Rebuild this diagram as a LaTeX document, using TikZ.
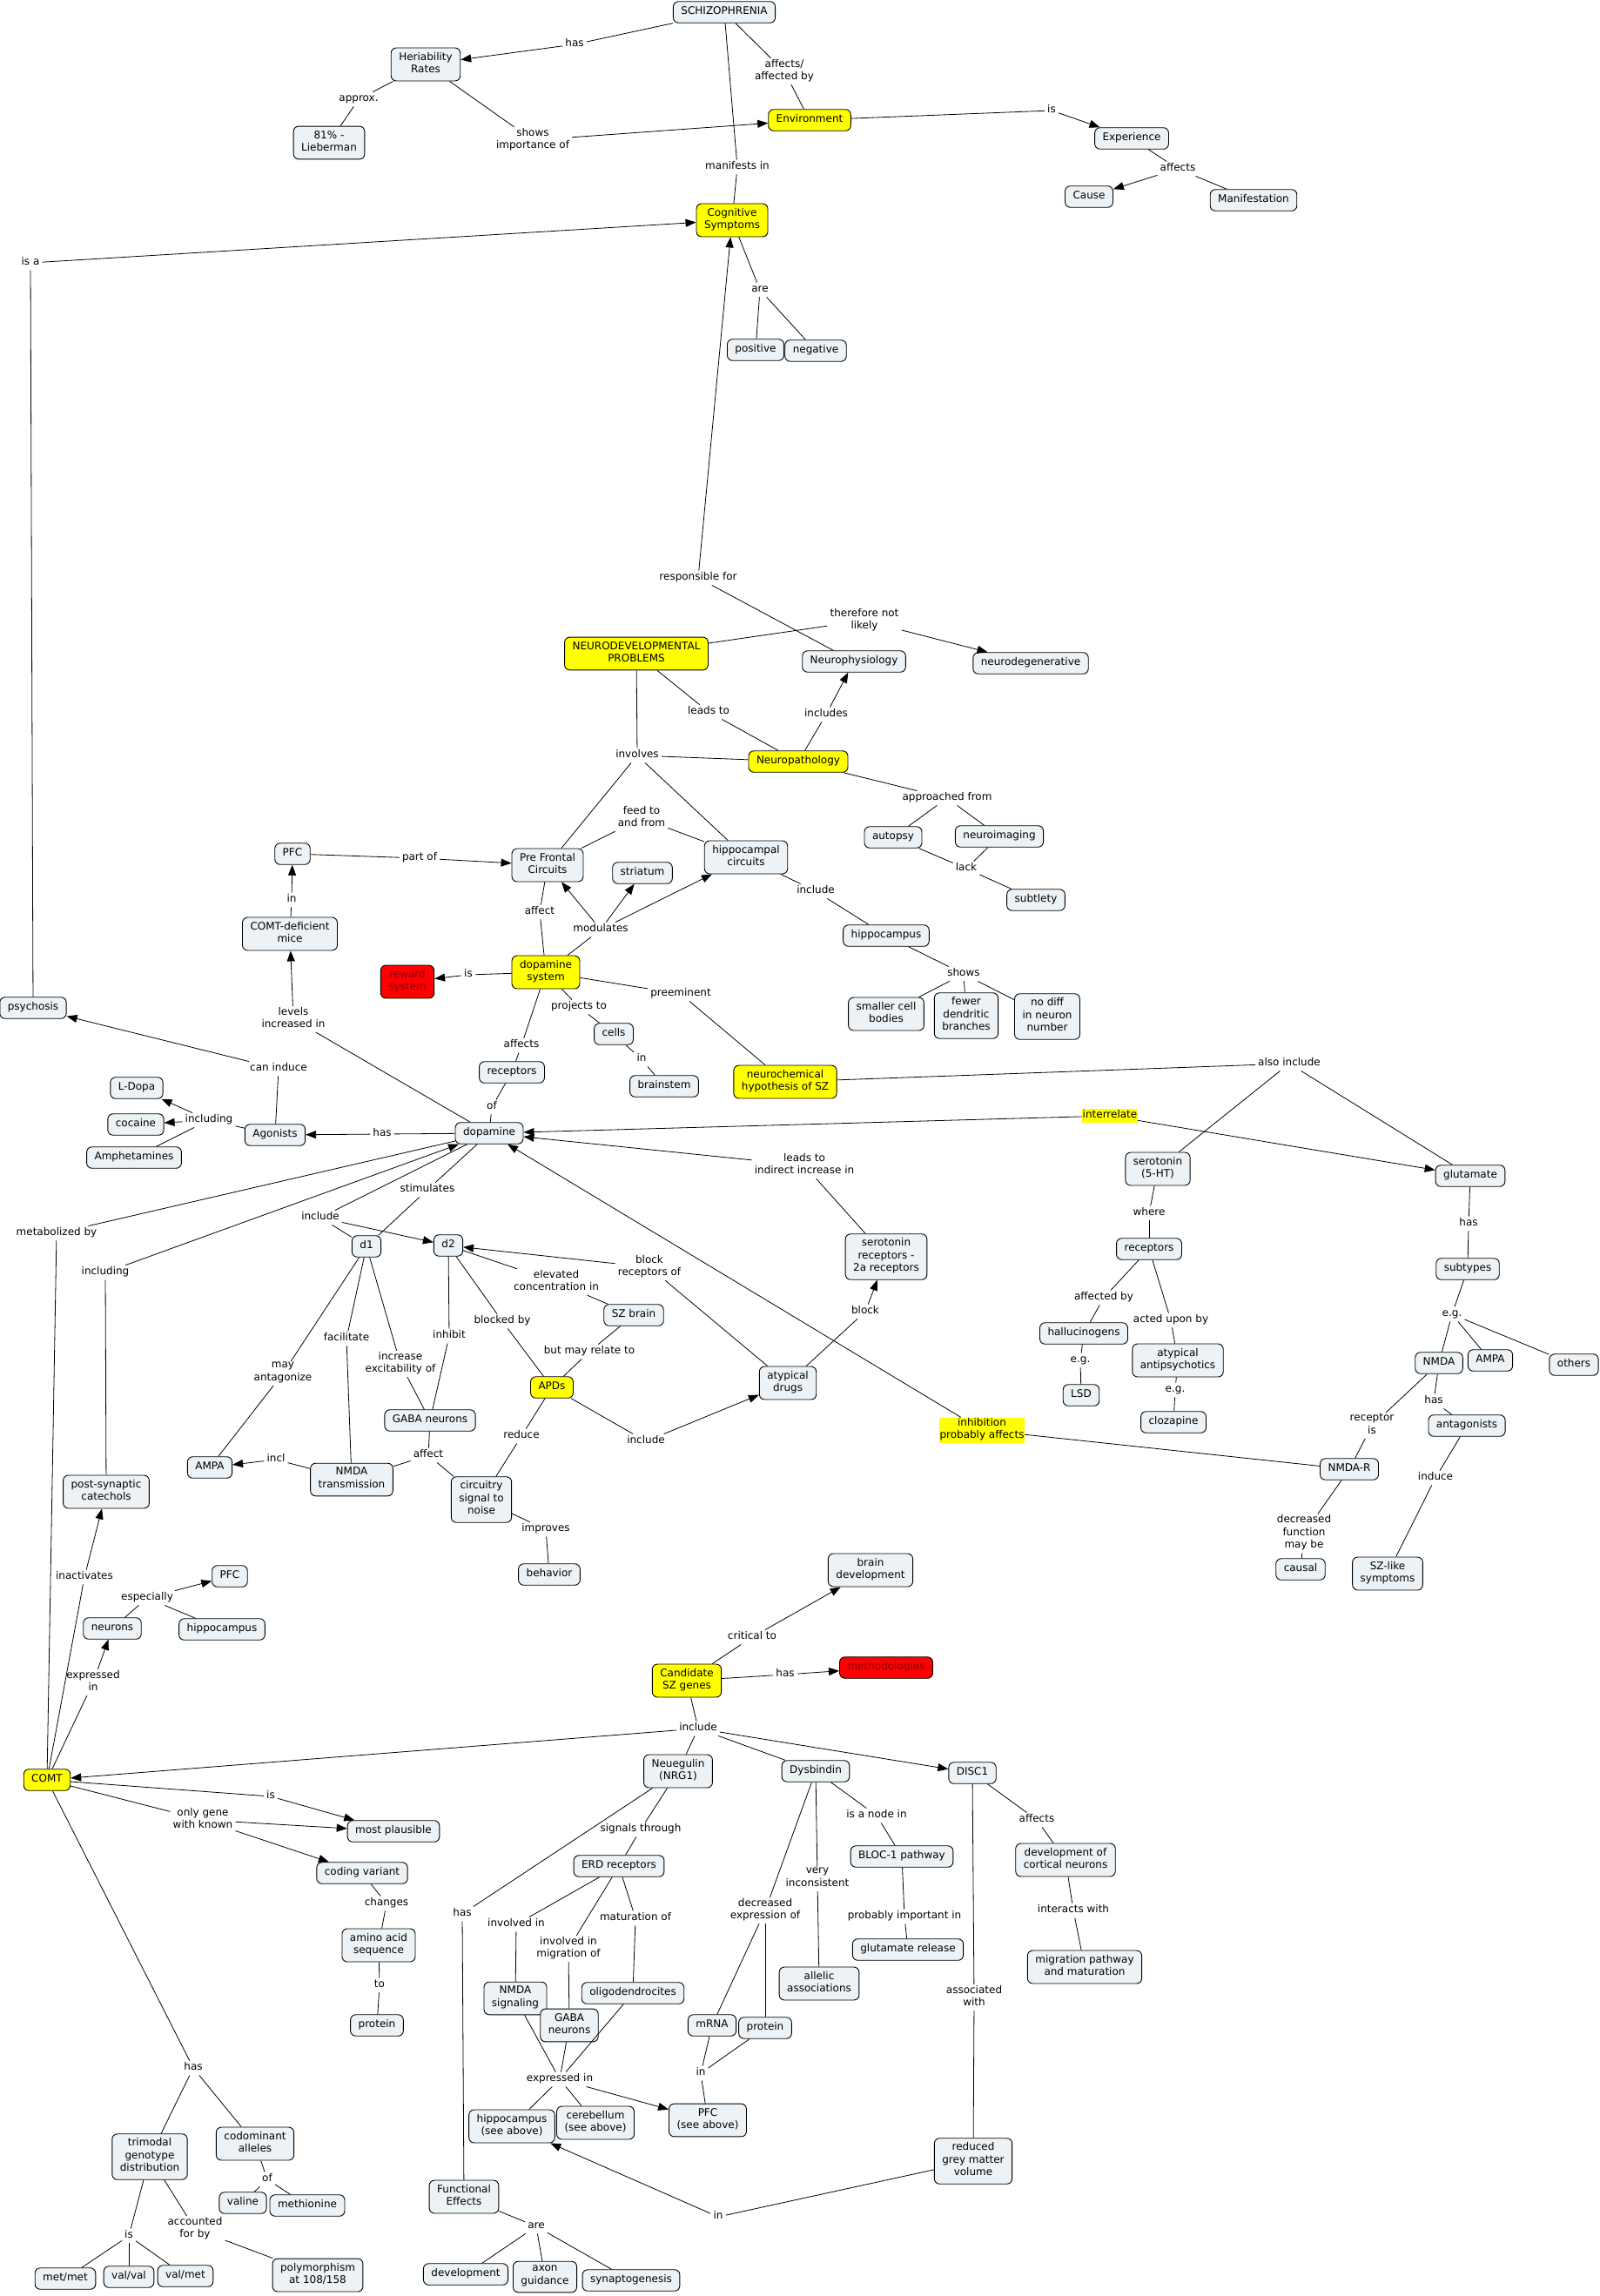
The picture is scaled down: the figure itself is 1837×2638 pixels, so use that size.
\documentclass[tikz,border=0pt]{standalone}
\usepackage{fontspec}
\setmainfont{DejaVu Sans}
\usetikzlibrary{arrows.meta}
\definecolor{cfill}{RGB}{236,242,245}
\definecolor{ylw}{RGB}{255,255,0}
\definecolor{rd}{RGB}{255,0,0}
\definecolor{rdtext}{RGB}{140,0,0}
\tikzset{
  base/.style={font=\fontsize{12}{14.5}\selectfont, align=center, execute at begin node=\strut, execute at end node=\strut},
  concept/.style={base, draw=black, line width=0.9pt, fill=cfill, rounded corners=6pt, inner xsep=9pt, inner ysep=5pt},
  yconcept/.style={concept, fill=ylw},
  rconcept/.style={concept, fill=rd, text=rdtext},
  lab/.style={base, inner xsep=3pt, inner ysep=1pt},
  ylab/.style={base, fill=ylw, inner sep=0.5pt},
  conn/.style={draw=black, line width=0.8pt},
  arr/.style={conn, -{Triangle[length=12pt,width=9pt]}},
}
\begin{document}
\begin{tikzpicture}[x=1pt,y=-1pt]
\fill[white] (0,0) rectangle (1837,2638);
\useasboundingbox (0,0) rectangle (1837,2638);
% ---------- concepts ----------
\node[concept] (sz) at (832,14) {SCHIZOPHRENIA};
\node[concept] (her) at (489,74) {Heriability\\Rates};
\node[concept] (lieb) at (378,164) {81\% -\\Lieberman};
\node[yconcept] (env) at (930,138) {Environment};
\node[concept] (exp) at (1300,159) {Experience};
\node[concept] (cause) at (1251,226) {Cause};
\node[concept] (manif) at (1440,230) {Manifestation};
\node[yconcept] (cog) at (841,253) {Cognitive\\Symptoms};
\node[concept] (pos) at (868,402) {positive};
\node[concept] (neg) at (937,403) {negative};
\node[yconcept] (ndev) at (731,751) {NEURODEVELOPMENTAL\\PROBLEMS};
\node[concept] (nphys) at (981,760) {Neurophysiology};
\node[concept] (ndeg) at (1184,762) {neurodegenerative};
\node[yconcept] (npath) at (917,875) {Neuropathology};
\node[concept] (autopsy) at (1026,962) {autopsy};
\node[concept] (neuroim) at (1148,961) {neuroimaging};
\node[concept] (pfcirc) at (629,994) {Pre Frontal\\Circuits};
\node[concept] (hipcirc) at (857,985) {hippocampal\\circuits};
\node[concept] (striatum) at (738,1003) {striatum};
\node[concept] (subtlety) at (1190,1034) {subtlety};
\node[concept] (pfc1) at (336,981) {PFC};
\node[concept] (comtmice) at (333,1073) {COMT-deficient\\mice};
\node[rconcept] (reward) at (468,1128) {reward\\system};
\node[yconcept] (dasys) at (627,1117) {dopamine\\system};
\node[concept] (hippo) at (1018,1075) {hippocampus};
\node[concept] (smaller) at (1018,1165) {smaller cell\\bodies};
\node[concept] (fewer) at (1110,1167) {fewer\\dendritic\\branches};
\node[concept] (nodiff) at (1203,1168) {no diff\\in neuron\\number};
\node[concept] (cells) at (705,1188) {cells};
\node[concept] (brainstem) at (763,1248) {brainstem};
\node[yconcept] (nchem) at (902,1243) {neurochemical\\hypothesis of SZ};
\node[concept] (psychosis) at (38,1158) {psychosis};
\node[concept] (recep1) at (588,1232) {receptors};
\node[concept] (ldopa) at (157,1250) {L-Dopa};
\node[concept] (cocaine) at (156,1292) {cocaine};
\node[concept] (agon) at (316,1304) {Agonists};
\node[concept] (da) at (562,1302) {dopamine};
\node[concept] (amph) at (154,1330) {Amphetamines};
\node[concept] (d1) at (421,1432) {d1};
\node[concept] (d2) at (515,1431) {d2};
\node[concept] (sero) at (1330,1343) {serotonin\\(5-HT)};
\node[concept] (glut) at (1689,1351) {glutamate};
\node[concept] (recep2) at (1320,1435) {receptors};
\node[concept] (subtypes) at (1686,1458) {subtypes};
\node[concept] (ser2a) at (1018,1444) {serotonin\\receptors -\\2a receptors};
\node[concept] (szbrain) at (728,1511) {SZ brain};
\node[concept] (halluc) at (1245,1532) {hallucinogens};
\node[concept] (atypanti) at (1353,1563) {atypical\\antipsychotics};
\node[concept] (nmda) at (1653,1566) {NMDA};
\node[concept] (ampa2) at (1712,1563) {AMPA};
\node[concept] (others) at (1808,1568) {others};
\node[concept] (lsd) at (1242,1603) {LSD};
\node[concept] (clozapine) at (1348,1634) {clozapine};
\node[concept] (antag) at (1685,1638) {antagonists};
\node[concept] (nmdar) at (1550,1688) {NMDA-R};
\node[concept] (causal) at (1494,1803) {causal};
\node[concept] (szlike) at (1594,1808) {SZ-like\\symptoms};
\node[concept] (atyp) at (905,1589) {atypical\\drugs};
\node[yconcept] (apds) at (634,1594) {APDs};
\node[concept] (gabaA) at (494,1632) {GABA neurons};
\node[concept] (ampa1) at (241,1686) {AMPA};
\node[concept] (nmdatr) at (404,1700) {NMDA\\transmission};
\node[concept] (postsyn) at (122,1714) {post-synaptic\\catechols};
\node[concept] (circ) at (553,1723) {circuitry\\signal to\\noise};
\node[concept] (behavior) at (631,1809) {behavior};
\node[concept] (pfc2) at (264,1811) {PFC};
\node[concept] (neurons) at (129,1871) {neurons};
\node[concept] (hippo2) at (255,1872) {hippocampus};
\node[concept] (braindev) at (1000,1804) {brain\\development};
\node[yconcept] (cand) at (789,1931) {Candidate\\SZ genes};
\node[rconcept] (method) at (1018,1916) {methodologies};
\node[yconcept] (comt) at (54,2045) {COMT};
\node[concept] (nrg) at (779,2035) {Neuegulin\\(NRG1)};
\node[concept] (dysb) at (937,2035) {Dysbindin};
\node[concept] (disc) at (1117,2037) {DISC1};
\node[concept] (mostpl) at (452,2104) {most plausible};
\node[concept] (bloc) at (1036,2133) {BLOC-1 pathway};
\node[concept] (devcort) at (1224,2137) {development of\\cortical neurons};
\node[concept] (erd) at (711,2144) {ERD receptors};
\node[concept] (coding) at (416,2152) {coding variant};
\node[concept] (amino) at (435,2235) {amino acid\\sequence};
\node[concept] (glurel) at (1043,2240) {glutamate release};
\node[concept] (migr) at (1246,2260) {migration pathway\\and maturation};
\node[concept] (allelic) at (941,2279) {allelic\\associations};
\node[concept] (oligo) at (727,2290) {oligodendrocites};
\node[concept] (nmdasig) at (592,2296) {NMDA\\signaling};
\node[concept] (gabaB) at (654,2327) {GABA\\neurons};
\node[concept] (mrna) at (818,2327) {mRNA};
\node[concept] (protein2) at (879,2330) {protein};
\node[concept] (protein1) at (433,2327) {protein};
\node[concept] (hipsee) at (588,2443) {hippocampus\\(see above)};
\node[concept] (cereb) at (684,2439) {cerebellum\\(see above)};
\node[concept] (pfcsee) at (813,2436) {PFC\\(see above)};
\node[concept] (grey) at (1118,2483) {reduced\\grey matter\\volume};
\node[concept] (trimodal) at (172,2478) {trimodal\\genotype\\distribution};
\node[concept] (codom) at (293,2463) {codominant\\alleles};
\node[concept] (funceff) at (533,2524) {Functional\\Effects};
\node[concept] (valine) at (279,2531) {valine};
\node[concept] (methionine) at (353,2534) {methionine};
\node[concept] (metmet) at (75,2618) {met/met};
\node[concept] (valval) at (148,2616) {val/val};
\node[concept] (valmet) at (213,2615) {val/met};
\node[concept] (poly) at (365,2614) {polymorphism\\at 108/158};
\node[concept] (devel) at (535,2613) {development};
\node[concept] (axon) at (626,2616) {axon\\guidance};
\node[concept] (synap) at (725,2620) {synaptogenesis};
% ---------- linking phrases ----------
\node[lab] (l1) at (660,51) {has};
\node[lab] (l2) at (412,114) {approx.};
\node[lab] (l3) at (612,161) {shows\\importance of};
\node[lab] (l4) at (901,82) {affects/\\affected by};
\node[lab] (l5) at (1208,127) {is};
\node[lab] (l6) at (1353,194) {affects};
\node[lab] (l7) at (847,192) {manifests in};
\node[lab] (l8) at (873,333) {are};
\node[lab] (l9) at (35,302) {is a};
\node[lab] (l10) at (802,664) {responsible for};
\node[lab] (l11) at (993,713) {therefore not\\likely};
\node[lab] (l12) at (814,818) {leads to};
\node[lab] (l13) at (949,821) {includes};
\node[lab] (l14) at (732,868) {involves};
\node[lab] (l15) at (1088,917) {approached from};
\node[lab] (l16) at (737,940) {feed to\\and from};
\node[lab] (l17) at (1110,998) {lack};
\node[lab] (l18) at (482,986) {part of};
\node[lab] (l19) at (335,1034) {in};
\node[lab] (l20) at (937,1024) {include};
\node[lab] (l21) at (620,1048) {affect};
\node[lab] (l22) at (690,1068) {modulates};
\node[lab] (l23) at (538,1120) {is};
\node[lab] (l24) at (1107,1119) {shows};
\node[lab] (l25) at (782,1142) {preeminent};
\node[lab] (l26) at (665,1157) {projects to};
\node[lab] (l27) at (337,1171) {levels\\increased in};
\node[lab] (l28) at (599,1201) {affects};
\node[lab] (l29) at (737,1217) {in};
\node[lab] (l30) at (1481,1222) {also include};
\node[lab] (l31) at (320,1228) {can induce};
\node[lab] (l32) at (565,1272) {of};
\node[ylab] (l33) at (1275,1282) {interrelate};
\node[lab] (l34) at (240,1287) {including};
\node[lab] (l35) at (439,1303) {has};
\node[lab] (l36) at (491,1367) {stimulates};
\node[lab] (l37) at (368,1399) {include};
\node[lab] (l38) at (65,1417) {metabolized by};
\node[lab] (l39) at (121,1462) {including};
\node[lab] (l40) at (924,1339) {leads to\\indirect increase in};
\node[lab] (l41) at (1320,1394) {where};
\node[lab] (l42) at (1687,1406) {has};
\node[lab] (l43) at (746,1456) {block\\receptors of};
\node[lab] (l44) at (639,1473) {elevated\\concentration in};
\node[lab] (l45) at (1268,1491) {affected by};
\node[lab] (l46) at (994,1507) {block};
\node[lab] (l47) at (1668,1510) {e.g.};
\node[lab] (l48) at (1345,1517) {acted upon by};
\node[lab] (l49) at (577,1518) {blocked by};
\node[lab] (l50) at (516,1535) {inhibit};
\node[lab] (l51) at (398,1538) {facilitate};
\node[lab] (l52) at (677,1553) {but may relate to};
\node[lab] (l53) at (460,1567) {increase\\excitability of};
\node[lab] (l54) at (325,1578) {may\\antagonize};
\node[lab] (l55) at (1241,1563) {e.g.};
\node[lab] (l56) at (1350,1597) {e.g.};
\node[lab] (l57) at (1647,1610) {has};
\node[lab] (l58) at (1576,1638) {receptor\\is};
\node[ylab] (l59) at (1128,1643) {inhibition\\probably affects};
\node[lab] (l60) at (599,1650) {reduce};
\node[lab] (l61) at (742,1656) {include};
\node[lab] (l62) at (492,1672) {affect};
\node[lab] (l63) at (317,1677) {incl};
\node[lab] (l64) at (1649,1698) {induce};
\node[lab] (l65) at (627,1757) {improves};
\node[lab] (l66) at (1498,1762) {decreased\\function\\may be};
\node[lab] (l67) at (97,1812) {inactivates};
\node[lab] (l68) at (169,1836) {especially};
\node[lab] (l69) at (864,1881) {critical to};
\node[lab] (l70) at (902,1924) {has};
\node[lab] (l71) at (107,1933) {expressed\\in};
\node[lab] (l72) at (802,1986) {include};
\node[lab] (l73) at (311,2064) {is};
\node[lab] (l74) at (233,2091) {only gene\\with known};
\node[lab] (l75) at (1007,2086) {is a node in};
\node[lab] (l76) at (1191,2091) {affects};
\node[lab] (l77) at (736,2102) {signals through};
\node[lab] (l78) at (939,2159) {very\\inconsistent};
\node[lab] (l79) at (444,2187) {changes};
\node[lab] (l80) at (879,2195) {decreased\\expression of};
\node[lab] (l81) at (531,2199) {has};
\node[lab] (l82) at (1039,2202) {probably important in};
\node[lab] (l83) at (730,2204) {maturation of};
\node[lab] (l84) at (1233,2195) {interacts with};
\node[lab] (l85) at (593,2211) {involved in};
\node[lab] (l86) at (653,2239) {involved in\\migration of};
\node[lab] (l87) at (436,2281) {to};
\node[lab] (l88) at (1119,2295) {associated\\with};
\node[lab] (l89) at (222,2376) {has};
\node[lab] (l90) at (805,2382) {in};
\node[lab] (l91) at (643,2389) {expressed in};
\node[lab] (l92) at (307,2504) {of};
\node[lab] (l93) at (825,2547) {in};
\node[lab] (l94) at (224,2561) {accounted\\for by};
\node[lab] (l95) at (616,2558) {are};
\node[lab] (l96) at (148,2569) {is};
% ---------- connectors ----------
\draw[conn] (sz) -- (l1); \draw[arr] (l1) -- (her);
\draw[conn] (her) -- (l2); \draw[conn] (l2) -- (lieb);
\draw[conn] (her) -- (l3); \draw[arr] (l3) -- (env);
\draw[conn] (sz) -- (l4); \draw[conn] (l4) -- (env);
\draw[conn] (env) -- (l5); \draw[arr] (l5) -- (exp);
\draw[conn] (exp) -- (l6); \draw[arr] (l6) -- (cause); \draw[conn] (l6) -- (manif);
\draw[conn] (sz) -- (l7); \draw[conn] (l7) -- (cog);
\draw[conn] (cog) -- (l8); \draw[conn] (l8) -- (pos); \draw[conn] (l8) -- (neg);
\draw[conn] (psychosis) -- (l9); \draw[arr] (l9) -- (cog);
\draw[conn] (nphys) -- (l10); \draw[arr] (l10) -- (cog);
\draw[conn] (ndev) -- (l11); \draw[arr] (l11) -- (ndeg);
\draw[conn] (ndev) -- (l12); \draw[conn] (l12) -- (npath);
\draw[conn] (npath) -- (l13); \draw[arr] (l13) -- (nphys);
\draw[conn] (ndev) -- (l14); \draw[conn] (l14) -- (npath); \draw[conn] (l14) -- (pfcirc); \draw[conn] (l14) -- (hipcirc);
\draw[conn] (npath) -- (l15); \draw[conn] (l15) -- (autopsy); \draw[conn] (l15) -- (neuroim);
\draw[conn] (autopsy) -- (l17); \draw[conn] (neuroim) -- (l17); \draw[conn] (l17) -- (subtlety);
\draw[conn] (pfcirc) -- (l16); \draw[conn] (l16) -- (hipcirc);
\draw[conn] (pfc1) -- (l18); \draw[arr] (l18) -- (pfcirc);
\draw[conn] (comtmice) -- (l19); \draw[arr] (l19) -- (pfc1);
\draw[conn] (hipcirc) -- (l20); \draw[conn] (l20) -- (hippo);
\draw[conn] (pfcirc) -- (l21); \draw[conn] (l21) -- (dasys);
\draw[conn] (dasys) -- (l22); \draw[arr] (l22) -- (pfcirc); \draw[arr] (l22) -- (striatum); \draw[arr] (l22) -- (hipcirc);
\draw[conn] (dasys) -- (l23); \draw[arr] (l23) -- (reward);
\draw[conn] (hippo) -- (l24); \draw[conn] (l24) -- (smaller); \draw[conn] (l24) -- (fewer); \draw[conn] (l24) -- (nodiff);
\draw[conn] (dasys) -- (l25); \draw[conn] (l25) -- (nchem);
\draw[conn] (dasys) -- (l26); \draw[conn] (l26) -- (cells);
\draw[conn] (cells) -- (l29); \draw[conn] (l29) -- (brainstem);
\draw[conn] (da) -- (l27); \draw[arr] (l27) -- (comtmice);
\draw[conn] (dasys) -- (l28); \draw[conn] (l28) -- (recep1);
\draw[conn] (recep1) -- (l32); \draw[conn] (l32) -- (da);
\draw[conn] (nchem) -- (l30); \draw[conn] (l30) -- (sero); \draw[conn] (l30) -- (glut);
\draw[conn] (agon) -- (l31); \draw[arr] (l31) -- (psychosis);
\draw[conn] (agon) -- (l34); \draw[arr] (l34) -- (ldopa); \draw[arr] (l34) -- (cocaine); \draw[conn] (l34) -- (amph);
\draw[conn] (da) -- (l35); \draw[arr] (l35) -- (agon);
\draw[arr] (l33) -- (da); \draw[arr] (l33) -- (glut);
\draw[conn] (da) -- (l36); \draw[conn] (l36) -- (d1);
\draw[conn] (da) -- (l37); \draw[arr] (l37) -- (d2); \draw[conn] (l37) -- (d1);
\draw[conn] (comt) -- (l38); \draw[conn] (l38) -- (da);
\draw[conn] (postsyn) -- (l39); \draw[arr] (l39) -- (da);
\draw[conn] (ser2a) -- (l40); \draw[arr] (l40) -- (da);
\draw[conn] (sero) -- (l41); \draw[conn] (l41) -- (recep2);
\draw[conn] (glut) -- (l42); \draw[conn] (l42) -- (subtypes);
\draw[conn] (atyp) -- (l43); \draw[arr] (l43) -- (d2);
\draw[conn] (d2) -- (l44); \draw[conn] (l44) -- (szbrain);
\draw[conn] (recep2) -- (l45); \draw[conn] (l45) -- (halluc);
\draw[conn] (atyp) -- (l46); \draw[arr] (l46) -- (ser2a);
\draw[conn] (subtypes) -- (l47); \draw[conn] (l47) -- (nmda); \draw[conn] (l47) -- (ampa2); \draw[conn] (l47) -- (others);
\draw[conn] (recep2) -- (l48); \draw[conn] (l48) -- (atypanti);
\draw[conn] (d2) -- (l49); \draw[conn] (l49) -- (apds);
\draw[conn] (d2) -- (l50); \draw[conn] (l50) -- (gabaA);
\draw[conn] (d1) -- (l51); \draw[conn] (l51) -- (nmdatr);
\draw[conn] (apds) -- (l52); \draw[conn] (l52) -- (szbrain);
\draw[conn] (d1) -- (l53); \draw[conn] (l53) -- (gabaA);
\draw[conn] (d1) -- (l54); \draw[conn] (l54) -- (ampa1);
\draw[conn] (halluc) -- (l55); \draw[conn] (l55) -- (lsd);
\draw[conn] (atypanti) -- (l56); \draw[conn] (l56) -- (clozapine);
\draw[conn] (nmda) -- (l57); \draw[conn] (l57) -- (antag);
\draw[conn] (nmda) -- (l58); \draw[conn] (l58) -- (nmdar);
\draw[conn] (nmdar) -- (l59); \draw[arr] (l59) -- (da);
\draw[conn] (apds) -- (l60); \draw[conn] (l60) -- (circ);
\draw[conn] (apds) -- (l61); \draw[arr] (l61) -- (atyp);
\draw[conn] (gabaA) -- (l62); \draw[conn] (l62) -- (nmdatr); \draw[conn] (l62) -- (circ);
\draw[conn] (nmdatr) -- (l63); \draw[arr] (l63) -- (ampa1);
\draw[conn] (antag) -- (l64); \draw[conn] (l64) -- (szlike);
\draw[conn] (circ) -- (l65); \draw[conn] (l65) -- (behavior);
\draw[conn] (nmdar) -- (l66); \draw[conn] (l66) -- (causal);
\draw[conn] (comt) -- (l67); \draw[arr] (l67) -- (postsyn);
\draw[conn] (neurons) -- (l68); \draw[arr] (l68) -- (pfc2); \draw[conn] (l68) -- (hippo2);
\draw[conn] (cand) -- (l69); \draw[arr] (l69) -- (braindev);
\draw[conn] (cand) -- (l70); \draw[arr] (l70) -- (method);
\draw[conn] (comt) -- (l71); \draw[arr] (l71) -- (neurons);
\draw[conn] (cand) -- (l72); \draw[arr] (l72) -- (comt); \draw[conn] (l72) -- (nrg); \draw[conn] (l72) -- (dysb); \draw[arr] (l72) -- (disc);
\draw[conn] (comt) -- (l73); \draw[arr] (l73) -- (mostpl);
\draw[conn] (comt) -- (l74); \draw[arr] (l74) -- (mostpl); \draw[arr] (l74) -- (coding);
\draw[conn] (dysb) -- (l75); \draw[conn] (l75) -- (bloc);
\draw[conn] (disc) -- (l76); \draw[conn] (l76) -- (devcort);
\draw[conn] (nrg) -- (l77); \draw[conn] (l77) -- (erd);
\draw[conn] (dysb) -- (l78); \draw[conn] (l78) -- (allelic);
\draw[conn] (coding) -- (l79); \draw[conn] (l79) -- (amino);
\draw[conn] (dysb) -- (l80); \draw[conn] (l80) -- (mrna); \draw[conn] (l80) -- (protein2);
\draw[conn] (nrg) -- (l81); \draw[conn] (l81) -- (funceff);
\draw[conn] (bloc) -- (l82); \draw[conn] (l82) -- (glurel);
\draw[conn] (erd) -- (l83); \draw[conn] (l83) -- (oligo);
\draw[conn] (devcort) -- (l84); \draw[conn] (l84) -- (migr);
\draw[conn] (erd) -- (l85); \draw[conn] (l85) -- (nmdasig);
\draw[conn] (erd) -- (l86); \draw[conn] (l86) -- (gabaB);
\draw[conn] (amino) -- (l87); \draw[conn] (l87) -- (protein1);
\draw[conn] (disc) -- (l88); \draw[conn] (l88) -- (grey);
\draw[conn] (comt) -- (l89); \draw[conn] (l89) -- (trimodal); \draw[conn] (l89) -- (codom);
\draw[conn] (mrna) -- (l90); \draw[conn] (protein2) -- (l90); \draw[conn] (l90) -- (pfcsee);
\draw[conn] (nmdasig) -- (l91); \draw[conn] (gabaB) -- (l91); \draw[conn] (oligo) -- (l91);
\draw[conn] (l91) -- (hipsee); \draw[conn] (l91) -- (cereb); \draw[arr] (l91) -- (pfcsee);
\draw[conn] (codom) -- (l92); \draw[conn] (l92) -- (valine); \draw[conn] (l92) -- (methionine);
\draw[conn] (grey) -- (l93); \draw[arr] (l93) -- (hipsee);
\draw[conn] (trimodal) -- (l94); \draw[conn] (l94) -- (poly);
\draw[conn] (funceff) -- (l95); \draw[conn] (l95) -- (devel); \draw[conn] (l95) -- (axon); \draw[conn] (l95) -- (synap);
\draw[conn] (trimodal) -- (l96); \draw[conn] (l96) -- (metmet); \draw[conn] (l96) -- (valval); \draw[conn] (l96) -- (valmet);
\end{tikzpicture}
\end{document}
